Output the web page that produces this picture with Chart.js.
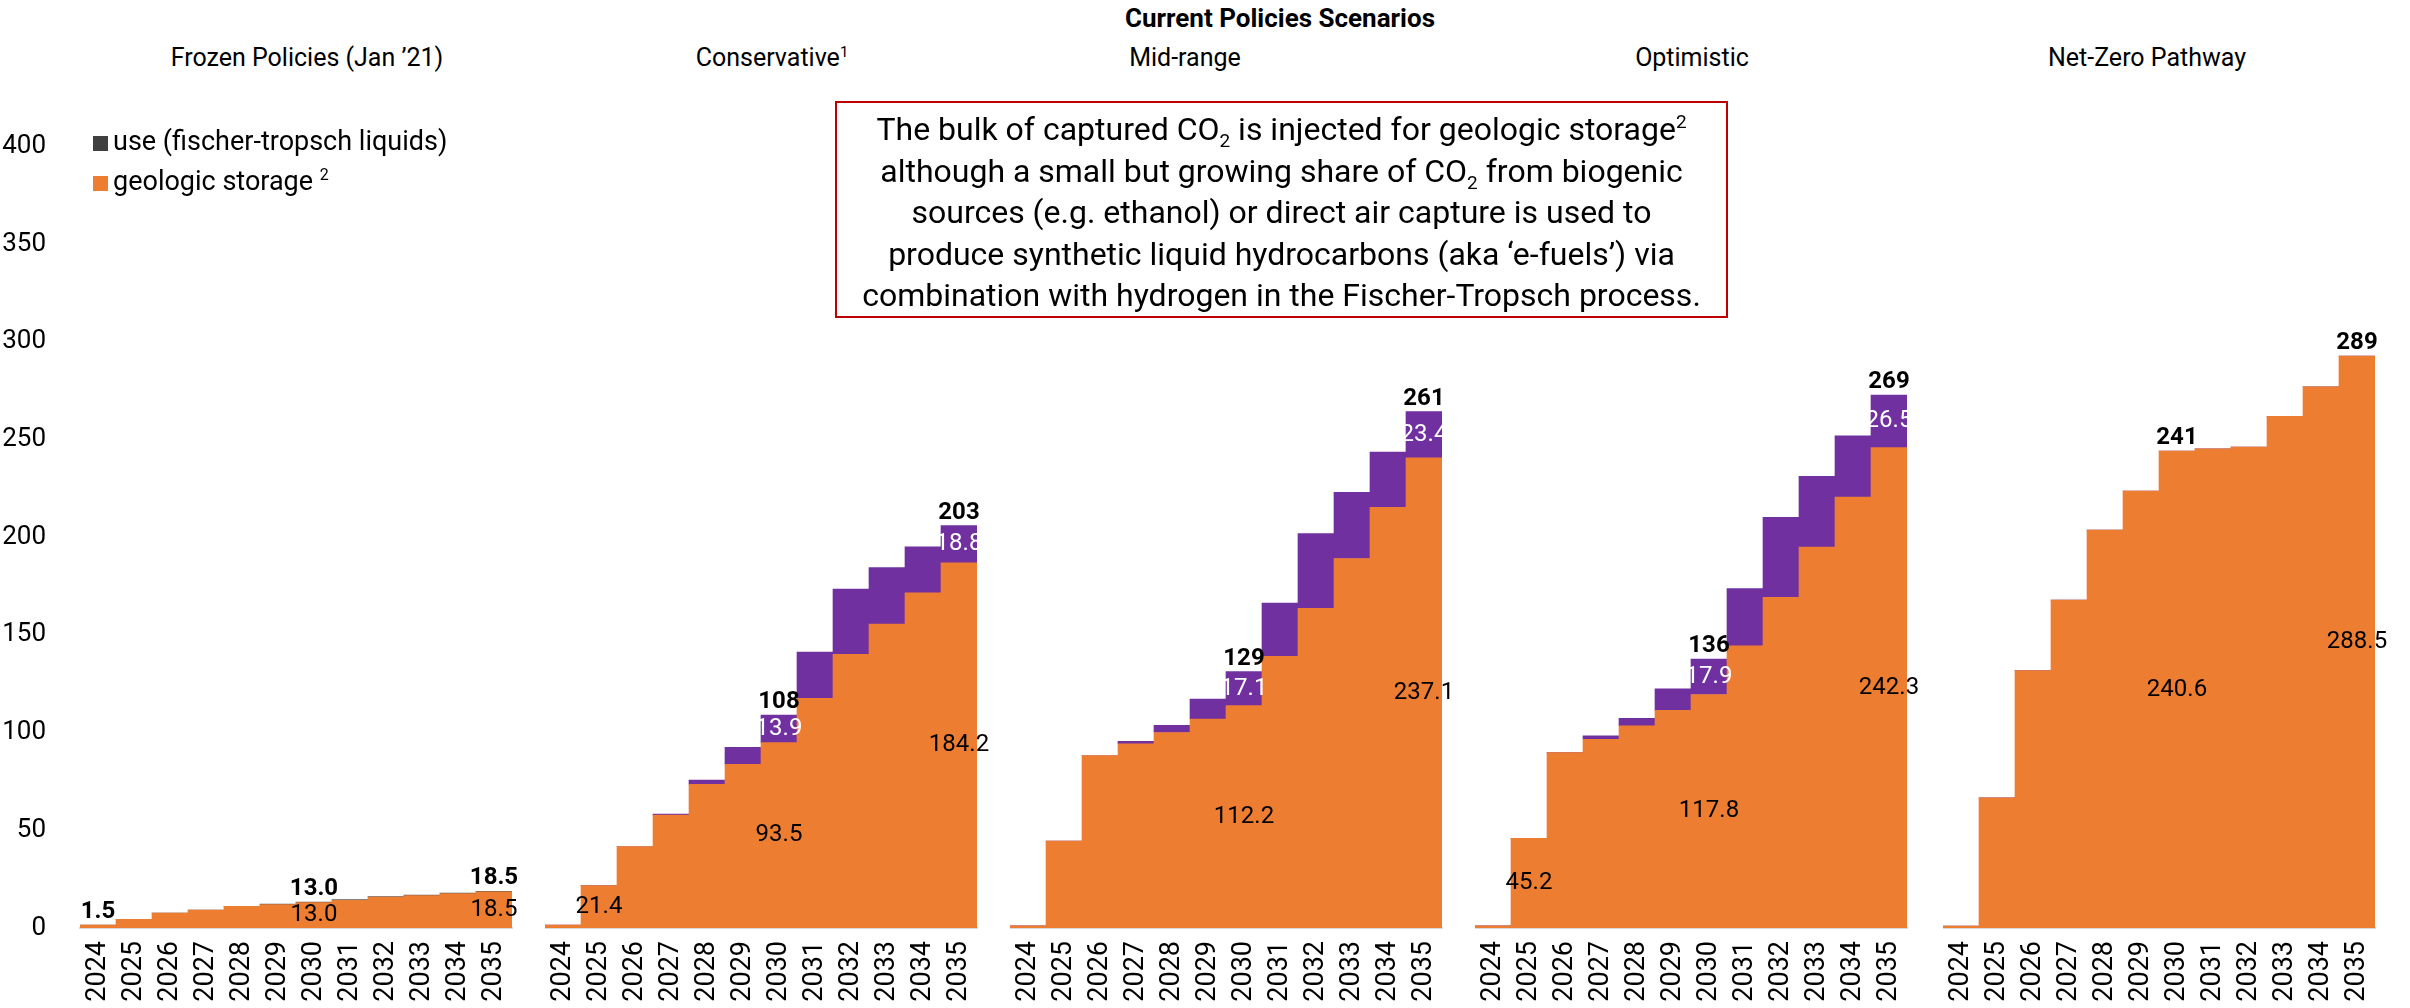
<!DOCTYPE html>
<html>
<head>
<meta charset="utf-8">
<script src="https://cdn.jsdelivr.net/npm/chart.js@4.4.1/dist/chart.umd.min.js"></script>
<style>
  body { margin: 0; width: 2410px; height: 1008px; background: #fff; position: relative; overflow: hidden; font-family: Roboto, sans-serif; color: #000; }
  sup, sub { line-height: 0; }
  .panel { position: absolute; top: 105px; height: 901px; }
  .ptitle { position: absolute; top: 43px; font-size: 25px; transform: translateX(-50%); white-space: nowrap; line-height: 30px; }
  .ptitle sup { font-size: 15px; }
  .head { position: absolute; top: 3px; left: 1280px; transform: translateX(-50%); font-weight: bold; font-size: 26px; line-height: 30px; white-space: nowrap; }
  .legend { position: absolute; left: 93px; top: 121px; font-size: 27px; line-height: 40px; }
  .legend .sw { display: inline-block; width: 15px; height: 15px; margin-right: 5px; vertical-align: -1px; }
  .legend sup { font-size: 16px; }
  .note { position: absolute; left: 835px; top: 101px; width: 889px; height: 207px; border: 2px solid #c00000; text-align: center; font-size: 32px; line-height: 41.5px; padding-top: 6px; box-sizing: content-box; }
  .note sub, .note sup { font-size: 19px; }
</style>
</head>
<body>
<div class="head">Current Policies Scenarios</div>
<div class="ptitle" style="left:307px">Frozen Policies (Jan ’21)</div>
<div class="ptitle" style="left:772px">Conservative<sup>1</sup></div>
<div class="ptitle" style="left:1185px">Mid-range</div>
<div class="ptitle" style="left:1692px">Optimistic</div>
<div class="ptitle" style="left:2147px">Net-Zero Pathway</div>

<div class="panel" style="left:0;width:542px"><canvas id="p0"></canvas></div>
<div class="panel" style="left:545px;width:462px"><canvas id="p1"></canvas></div>
<div class="panel" style="left:1010px;width:462px"><canvas id="p2"></canvas></div>
<div class="panel" style="left:1475px;width:462px"><canvas id="p3"></canvas></div>
<div class="panel" style="left:1943px;width:462px"><canvas id="p4"></canvas></div>

<div class="legend">
  <div><span class="sw" style="background:#404040"></span>use (fischer-tropsch liquids)</div>
  <div><span class="sw" style="background:#ed7d31"></span>geologic storage <sup>2</sup></div>
</div>

<div class="note">
  The bulk of captured CO<sub>2</sub> is injected for geologic storage<sup>2</sup><br>
  although a small but growing share of CO<sub>2</sub> from biogenic<br>
  sources (e.g. ethanol) or direct air capture is used to<br>
  produce synthetic liquid hydrocarbons (aka ‘e-fuels’) via<br>
  combination with hydrogen in the Fischer-Tropsch process.
</div>

<script>
const years = ['2024', '2025', '2026', '2027', '2028', '2029', '2030', '2031', '2032', '2033', '2034', '2035'];

// geologic storage / use per scenario (Mt CO2)
const frozenStorage = [1.5, 4.5, 7.7, 9.2, 11.1, 12.0, 13.0, 14.2, 15.8, 16.6, 17.6, 18.5];
const frozenUse     = [0, 0, 0, 0, 0, 0.3, 0.3, 0.3, 0.3, 0.3, 0.3, 0.3];
const consStorage   = [1.5, 21.4, 41.1, 56.9, 72.5, 82.6, 93.5, 115.9, 138.1, 153.3, 169.1, 184.2];
const consUse       = [0, 0, 0, 0.5, 2.1, 8.5, 13.9, 23.3, 32.9, 28.5, 23.2, 18.8];
const midStorage    = [1.1, 43.9, 87.0, 92.9, 98.6, 105.4, 112.2, 137.0, 161.3, 186.4, 212.2, 237.1];
const midUse        = [0, 0, 0, 1.3, 3.6, 10.1, 17.1, 26.9, 37.6, 33.4, 27.9, 23.4];
const optStorage    = [1.1, 45.2, 88.5, 95.2, 102.0, 109.8, 117.8, 142.3, 166.8, 192.1, 217.3, 242.3];
const optUse        = [0, 0, 0, 1.7, 3.8, 10.8, 17.9, 28.9, 40.3, 35.7, 31.0, 26.5];
const nzStorage     = [1.0, 65.7, 129.8, 165.4, 200.7, 220.4, 240.6, 241.7, 242.6, 258.1, 273.0, 288.5];
const nzUse         = [0, 0, 0, 0, 0, 0, 0, 0, 0, 0, 0, 0];

// printed totals above the stacks
const frozenTotals = ['1.5', null, null, null, null, null, '13.0', null, null, null, null, '18.5'];
const consTotals   = [null, null, null, null, null, null, '108', null, null, null, null, '203'];
const midTotals    = [null, null, null, null, null, null, '129', null, null, null, null, '261'];
const optTotals    = [null, null, null, null, null, null, '136', null, null, null, null, '269'];
const nzTotals     = [null, null, null, null, null, null, '241', null, null, null, null, '289'];

const panels = [
  { id: 'p0', storage: frozenStorage, use: frozenUse, totals: frozenTotals, useColor: '#595959', storageLbl: [6, 11], useLbl: [], yAxis: true },
  { id: 'p1', storage: consStorage, use: consUse, totals: consTotals, useColor: '#7030a0', storageLbl: [1, 6, 11], useLbl: [6, 11] },
  { id: 'p2', storage: midStorage, use: midUse, totals: midTotals, useColor: '#7030a0', storageLbl: [6, 11], useLbl: [6, 11] },
  { id: 'p3', storage: optStorage, use: optUse, totals: optTotals, useColor: '#7030a0', storageLbl: [1, 6, 11], useLbl: [6, 11] },
  { id: 'p4', storage: nzStorage, use: nzUse, totals: nzTotals, useColor: '#7030a0', storageLbl: [6, 11], useLbl: [] }
];

function labelPlugin(p) {
  return {
    id: 'valueLabels',
    afterDatasetsDraw(chart) {
      const ctx = chart.ctx;
      const sMeta = chart.getDatasetMeta(0);
      const uMeta = chart.getDatasetMeta(1);
      ctx.save();
      ctx.textAlign = 'center';
      ctx.textBaseline = 'middle';
      ctx.font = '24px Roboto';
      ctx.fillStyle = '#000';
      p.storageLbl.forEach(i => {
        const b = sMeta.data[i];
        ctx.fillText(p.storage[i].toFixed(1), b.x, (b.y + b.base) / 2);
      });
      ctx.fillStyle = '#fff';
      p.useLbl.forEach(i => {
        const b = uMeta.data[i];
        ctx.fillText(p.use[i].toFixed(1), b.x, (b.y + b.base) / 2);
      });
      ctx.font = 'bold 24px Roboto';
      ctx.fillStyle = '#000';
      ctx.textBaseline = 'bottom';
      p.totals.forEach((t, i) => {
        if (!t) return;
        const b = uMeta.data[i];
        ctx.fillText(t, b.x, Math.min(b.y, sMeta.data[i].y) - 1);
      });
      ctx.restore();
    }
  };
}

panels.forEach(p => {
  const yScale = {
    stacked: true,
    display: !!p.yAxis,
    min: 0, max: 400,
    grid: { display: false },
    border: { display: false },
    ticks: { stepSize: 50, color: '#000', font: { family: 'Roboto', size: 26 }, padding: 26 }
  };
  if (p.yAxis) yScale.afterFit = s => { s.width = 80; };

  new Chart(document.getElementById(p.id), {
    type: 'bar',
    data: {
      labels: years,
      datasets: [
        { label: 'geologic storage', data: p.storage, backgroundColor: '#ed7d31', borderWidth: 0, barPercentage: 1, categoryPercentage: 1 },
        { label: 'use (fischer-tropsch liquids)', data: p.use, backgroundColor: p.useColor, borderWidth: 0, barPercentage: 1, categoryPercentage: 1 }
      ]
    },
    options: {
      responsive: true,
      maintainAspectRatio: false,
      animation: false,
      layout: { padding: { top: 30, right: 30, left: 0, bottom: 0 } },
      plugins: { legend: { display: false }, tooltip: { enabled: false } },
      scales: {
        x: {
          stacked: true,
          grid: { display: false, drawTicks: false },
          border: { display: true, color: '#d9d9d9', width: 2 },
          ticks: { color: '#000', font: { family: 'Roboto', size: 27 }, minRotation: 90, maxRotation: 90, autoSkip: false, padding: 13 },
          afterFit: s => { s.height = 78; }
        },
        y: yScale
      }
    },
    plugins: [labelPlugin(p)]
  });
});
</script>
</body>
</html>
